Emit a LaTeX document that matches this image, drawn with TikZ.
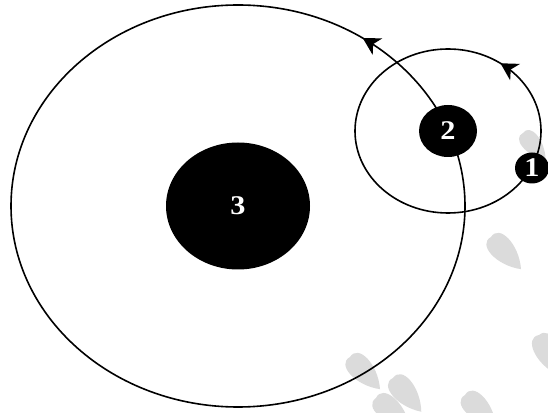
\documentclass[tikz,border=0pt]{standalone}
\usepackage{fontspec}
\setmainfont{Liberation Serif}
\usetikzlibrary{arrows.meta,decorations.markings,shapes.geometric}
\tikzset{
  orbit/.style={line width=1.6pt, draw=black},
  body/.style={fill=black, draw=none, text=white, font=\fontsize{27}{27}\selectfont\bfseries, inner sep=0pt},
  leaf/.style={fill=black!14, draw=none},
  leafpic/.pic={\fill[leaf] (0,0) .. controls (-4,15) and (24,16) .. (44,0) .. controls (24,-16) and (-4,-15) .. (0,0);},
  tip/.style={decoration={markings, mark=at position #1 with {\arrow{Stealth[length=17pt,width=19pt,inset=5pt]}}}, postaction={decorate}}
}
\begin{document}
\begin{tikzpicture}[x=1pt,y=1pt]
\clip (0,0) rectangle (548,412);
\fill[white] (0,0) rectangle (548,412);
% watermark leaves
\pic[rotate=-47] at (491,175) {leafpic};
\pic[rotate=-50, scale=0.8] at (523,279) {leafpic};
\pic[rotate=-47] at (350,55) {leafpic};
\pic[rotate=-50] at (393,34) {leafpic};
\pic[rotate=-40] at (376,14) {leafpic};
\pic[rotate=-45] at (465,17) {leafpic};
\pic[rotate=-65] at (539,77) {leafpic};
% orbits
\draw[orbit, tip=0.153] (238,206) ellipse (227 and 201);
\draw[orbit, tip=0.150] (448,281) ellipse (93 and 82);
% bodies
\node[body, ellipse, minimum width=144pt, minimum height=127pt] (b3) at (238,206) {\scalebox{1.12}[1]{3}};
\node[body, ellipse, minimum width=58pt, minimum height=52pt] (b2) at (448,281) {\scalebox{1.12}[1]{2}};
\node[body, ellipse, minimum width=34pt, minimum height=31pt] (b1) at (532,244) {\scalebox{1.12}[1]{1}};
\end{tikzpicture}
\end{document}
